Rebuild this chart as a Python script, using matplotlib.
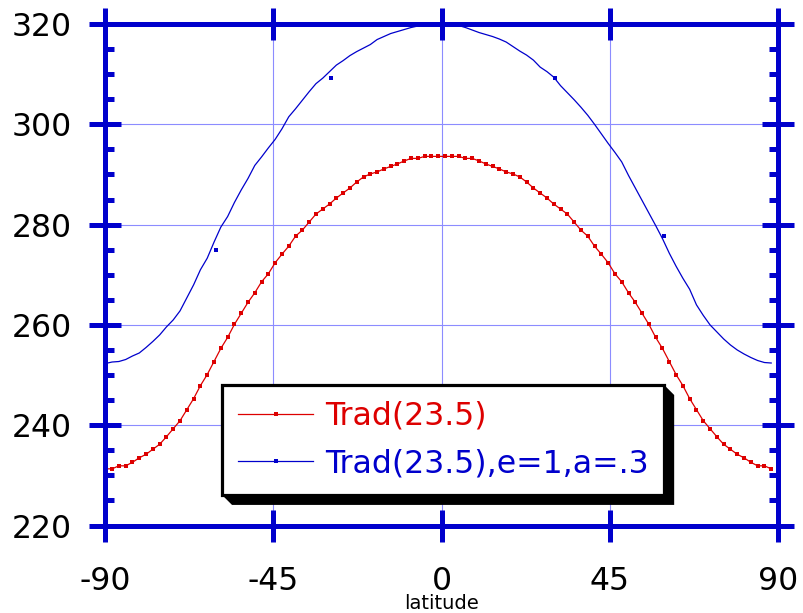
import numpy as np
import matplotlib
matplotlib.use("Agg")
import matplotlib.pyplot as plt
from matplotlib.lines import Line2D
from matplotlib.patches import Polygon
from matplotlib.transforms import IdentityTransform

plt.rcParams["axes.unicode_minus"] = False

# ---------------- data ----------------
latitude = np.linspace(-90, 90, 100)[:99]

trad_red = [
    231.3, 231.3, 231.9, 231.9, 232.6, 233.5, 234.2, 235.2, 236.2, 237.7,
    239.3, 240.9, 243.1, 245.3, 247.9, 250.1, 252.7, 255.3, 257.5, 260.1,
    262.3, 264.5, 266.4, 268.6, 270.2, 272.4, 274.1, 275.7, 277.7, 278.9,
    280.5, 282.1, 283.1, 284.1, 285.3, 286.3, 287.3, 288.5, 289.5, 290.1,
    290.5, 291.1, 291.6, 292.1, 292.7, 293.2, 293.2, 293.6, 293.6, 293.6,
    293.6, 293.6, 293.6, 293.2, 293.2, 292.7, 292.1, 291.6, 291.1, 290.5,
    290.1, 289.5, 288.5, 287.3, 286.3, 285.3, 284.1, 283.1, 282.1, 280.5,
    278.9, 277.7, 275.7, 274.1, 272.4, 270.2, 268.6, 266.4, 264.5, 262.3,
    260.1, 257.5, 255.3, 252.7, 250.1, 247.9, 245.3, 243.1, 240.9, 239.3,
    237.7, 236.2, 235.2, 234.2, 233.5, 232.6, 231.9, 231.9, 231.3,
]

trad_blue = [
    252.3, 252.6, 252.7, 253.1, 253.8, 254.4, 255.5, 256.7, 258.0, 259.6,
    261.0, 262.8, 265.4, 268.0, 271.0, 273.3, 276.5, 279.5, 281.6, 284.4,
    286.9, 289.2, 291.8, 293.5, 295.3, 297.0, 299.1, 301.5, 303.1, 304.8,
    306.5, 308.1, 309.2, 310.5, 311.8, 312.7, 313.7, 314.5, 315.2, 315.9,
    316.9, 317.5, 318.1, 318.5, 318.9, 319.3, 319.6, 319.9, 320.1, 320.2,
    320.2, 320.0, 319.7, 319.3, 318.8, 318.3, 317.9, 317.5, 317.0, 316.4,
    315.5, 314.6, 313.8, 312.8, 311.4, 310.5, 309.4, 307.7, 306.3, 304.9,
    303.4, 301.8, 300.0, 298.1, 296.2, 294.4, 292.5, 289.8, 287.3, 284.8,
    282.3, 279.8, 277.2, 274.3, 271.7, 269.3, 267.1, 264.0, 261.9, 260.0,
    258.6, 257.2, 256.0, 255.0, 254.2, 253.5, 252.9, 252.5, 252.4,
]

blue_marker_lat = [-90, -60.3, -29.5, 0, 30.4, 59.6, 90]
blue_marker_val = [252.3, 275.0, 309.2, 320.0, 309.2, 277.7, 252.3]

x_ticks = [-90, -45, 0, 45, 90]
y_ticks = [220, 240, 260, 280, 300, 320]
y_minor_ticks = [225, 230, 235, 245, 250, 255, 265, 270, 275,
                 285, 290, 295, 305, 310, 315]
labels = ["Trad(23.5)", "Trad(23.5),e=1,a=.3"]

RED = "#dd0000"
BLUE = "#0000cc"
GRID = "#8c8cff"

# ---------------- figure ----------------
W, H = 804, 613
fig = plt.figure(figsize=(W / 100, H / 100), dpi=100)
ax = fig.add_axes([105.3 / W, 1 - 525.5 / H, (778 - 105.3) / W, (525.5 - 24) / H])

ax.plot(latitude, trad_red, color=RED, lw=0.9, marker="s", ms=2.4, mew=0,
        zorder=2)
ax.plot(latitude, trad_blue, color=BLUE, lw=0.9, zorder=2)
ax.plot(blue_marker_lat, blue_marker_val, ls="none", color=BLUE, marker="s",
        ms=2.4, mew=0, zorder=2)

ax.set_xlim(-90, 90)
ax.set_ylim(220, 320)
ax.set_xticks(x_ticks)
ax.set_yticks(y_ticks)
ax.set_yticks(y_minor_ticks, minor=True)

ax.grid(True, which="major", color=GRID, lw=0.8, zorder=1)
ax.set_axisbelow(True)

for s in ax.spines.values():
    s.set_color(BLUE)
    s.set_linewidth(3.6)
    s.set_zorder(3)

ax.tick_params(which="major", direction="inout", length=23, width=3.6,
               color=BLUE, top=True, right=True, labelsize=22.7,
               labelcolor="black")
ax.tick_params(axis="x", which="major", pad=17.6)
ax.tick_params(axis="y", which="major", pad=12.3)
ax.tick_params(which="minor", direction="in", length=6.3, width=3.6,
               color=BLUE, left=True, right=True)
ax.tick_params(axis="x", which="minor", bottom=False, top=False)

ax.set_xlabel("latitude", fontsize=14)
ax.xaxis.set_label_coords(0.5, (525.5 - 609) / (525.5 - 24))
ax.xaxis.label.set_va("baseline")

# ---------------- legend ----------------
handles = [
    Line2D([], [], color=RED, lw=0.9, marker="s", ms=2.4, mew=0),
    Line2D([], [], color=BLUE, lw=0.9, marker="s", ms=2.4, mew=0),
]
leg = ax.legend(handles, labels, loc="upper left",
                bbox_to_anchor=(222 / W, 1 - 385 / H),
                bbox_transform=fig.transFigure, borderaxespad=0,
                fontsize=22.7, labelcolor=[RED, BLUE], numpoints=1,
                handlelength=2.4, handletextpad=0.36, borderpad=0.5,
                labelspacing=0.52, fancybox=False, framealpha=1,
                edgecolor="black")
leg.get_frame().set_linewidth(2.3)
leg.set_zorder(10)

fig.canvas.draw()
bb = leg.get_frame().get_window_extent()
d = 10
shadow = Polygon([(bb.x0, bb.y0), (bb.x0 + d, bb.y0 - d), (bb.x1 + d, bb.y0 - d),
                  (bb.x1 + d, bb.y1 - d), (bb.x1, bb.y1)],
                 closed=True, facecolor="black", edgecolor="none",
                 transform=IdentityTransform(), zorder=9, clip_on=False)
ax.add_patch(shadow)

fig.savefig("out.png", dpi=100)
